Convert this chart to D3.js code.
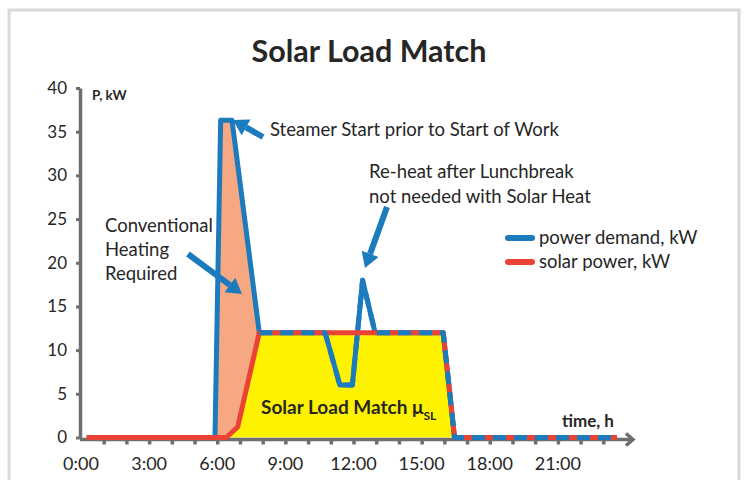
<!DOCTYPE html>
<html><head><meta charset="utf-8">
<script src="https://cdn.jsdelivr.net/npm/d3@7"></script>
<style>
body{margin:0;background:#fff}
text{font-family:Lato,"Open Sans",sans-serif;fill:#262626}
</style>
</head><body>
<svg id="c" width="748" height="480"></svg>
<script>
// ---- data ----
const demandHours = [0.25, 5.9, 6.15, 6.65, 7.85, 10.75, 11.4, 11.95, 12.4, 12.95, 15.95, 16.45, 23.6];
const demandKW    = [0,    0,   36.3, 36.3, 12,   12,    6,    6,     18,   12,    12,    0,     0];
const solarHours  = [0.25, 6.4, 6.9, 7.85, 15.95, 16.45, 23.6];
const solarKW     = [0,    0,   1.2, 12,   12,    0,     0];
const conventionalHours = [5.9, 6.15, 6.4, 6.65, 6.9, 7.85];
const yTicks = [0, 5, 10, 15, 20, 25, 30, 35, 40];
const xTickHours = [0, 3, 6, 9, 12, 15, 18, 21];
const xTickLabels = ["0:00", "3:00", "6:00", "9:00", "12:00", "15:00", "18:00", "21:00"];
const hourTicks = d3.range(1, 24);
const seriesNames = ["power demand, kW", "solar power, kW"];

const BLUE = "#1b7bbd", RED = "#ea4335", ORANGE = "#f5a882", YELLOW = "#fff200", AXIS = "#6e6e6e";

const demand = demandHours.map((h, i) => ({h, v: demandKW[i]}));
const solar = solarHours.map((h, i) => ({h, v: solarKW[i]}));
function interp(hs, vs, h) {
  for (let i = 0; i < hs.length - 1; i++) {
    if (h >= hs[i] && h <= hs[i + 1]) {
      const t = (h - hs[i]) / (hs[i + 1] - hs[i]);
      return vs[i] + t * (vs[i + 1] - vs[i]);
    }
  }
  return 0;
}
const conv = conventionalHours.map(h => ({h, hi: interp(demandHours, demandKW, h), lo: interp(solarHours, solarKW, h)}));
const solarArea = solar.filter(d => d.h >= 6.4 && d.h <= 16.45);
const overlay = demand.filter(d => d.h >= 7.85);

const svg = d3.select("#c");
const x = d3.scaleLinear().domain([0, 24]).range([81, 626]);
const y = d3.scaleLinear().domain([0, 40]).range([437.5, 88]);

// frame
svg.append("path").attr("d", "M9,482V10H739V482").attr("fill", "none").attr("stroke", "#d9d9d9").attr("stroke-width", 3);

// title
svg.append("text").attr("x", 369).attr("y", 62).attr("text-anchor", "middle")
  .style("font-size", "30.5px").style("font-weight", "700").text("Solar Load Match");

// areas
svg.append("path").datum(solarArea)
  .attr("d", d3.area().x(d => x(d.h)).y0(y(0)).y1(d => y(d.v)))
  .attr("fill", YELLOW);
svg.append("path").datum(conv)
  .attr("d", d3.area().x(d => x(d.h)).y0(d => y(d.lo)).y1(d => y(d.hi)))
  .attr("fill", ORANGE);

// axes
const yAxis = svg.append("g").attr("transform", `translate(${x(0) - 1},0)`)
  .call(d3.axisLeft(y).tickValues(yTicks).tickSize(4).tickSizeOuter(0).tickPadding(9));
yAxis.select(".domain").attr("stroke", AXIS).attr("stroke-width", 3.5);
yAxis.selectAll(".tick line").attr("stroke", AXIS).attr("stroke-width", 3);
yAxis.selectAll(".tick text").style("font-size", "17px").attr("fill", "#262626").style("font-family", "Lato");

const xAxis = svg.append("g").attr("transform", `translate(0,${y(0) + 2})`)
  .call(d3.axisBottom(x).tickValues(hourTicks).tickSize(5).tickSizeOuter(0).tickFormat(""));
xAxis.select(".domain").attr("d", `M${x(0) - 1},0H${x(24) + 5}`).attr("stroke", AXIS).attr("stroke-width", 3.5);
xAxis.selectAll(".tick line").attr("stroke", AXIS).attr("stroke-width", 3.5);
xAxis.append("path").attr("d", `M${x(24)},-6L${x(24) + 7},0L${x(24)},6`)
  .attr("fill", "none").attr("stroke", AXIS).attr("stroke-width", 3.5);

svg.append("g").selectAll("text").data(xTickHours).join("text")
  .attr("x", d => x(d)).attr("y", 470).attr("text-anchor", "middle")
  .style("font-size", "18px").text((d, i) => xTickLabels[i]);

// lines
const line = d3.line().x(d => x(d.h)).y(d => y(d.v));
svg.append("path").datum(demand).attr("d", line).attr("fill", "none")
  .attr("stroke", BLUE).attr("stroke-width", 5).attr("stroke-linejoin", "round");
svg.append("path").datum(solar).attr("d", line).attr("fill", "none")
  .attr("stroke", RED).attr("stroke-width", 5).attr("stroke-linejoin", "round");
svg.append("path").datum(overlay).attr("d", line).attr("fill", "none")
  .attr("stroke", BLUE).attr("stroke-width", 5).attr("stroke-dasharray", "13,8").attr("stroke-linejoin", "round");

// axis titles
svg.append("text").attr("x", 92).attr("y", 100).style("font-size", "13.5px").style("font-weight", "700").text("P, kW");
svg.append("text").attr("x", 562).attr("y", 427).style("font-size", "17px").style("font-weight", "700").text("time, h");

// inner label
const slm = svg.append("text").attr("x", 261).attr("y", 414).style("font-size", "19px").style("font-weight", "700");
slm.append("tspan").text("Solar Load Match \u03bc");
slm.append("tspan").attr("dy", 6).style("font-size", "12px").text("SL");

// arrows
function arrow(x1, y1, x2, y2) {
  const a = Math.atan2(y2 - y1, x2 - x1), L = 15, W = 9;
  const bx = x2 - L * Math.cos(a), by = y2 - L * Math.sin(a);
  svg.append("line").attr("x1", x1).attr("y1", y1).attr("x2", bx).attr("y2", by)
    .attr("stroke", BLUE).attr("stroke-width", 6);
  svg.append("path").attr("d", `M${x2},${y2}L${bx + W * Math.sin(a)},${by - W * Math.cos(a)}L${bx - W * Math.sin(a)},${by + W * Math.cos(a)}Z`)
    .attr("fill", BLUE);
}
arrow(263, 137, 233, 120);
arrow(387, 207, 365, 268);
arrow(188, 254, 242, 294);

// annotations
const FS = "18.5px";
svg.append("text").attr("x", 270).attr("y", 136).style("font-size", FS).text("Steamer Start prior to Start of Work");
svg.append("text").attr("x", 369).attr("y", 178).style("font-size", FS).text("Re-heat after Lunchbreak");
svg.append("text").attr("x", 369).attr("y", 203).style("font-size", FS).text("not needed with Solar Heat");
["Conventional", "Heating", "Required"].forEach((t, i) =>
  svg.append("text").attr("x", 105).attr("y", 232 + i * 24).style("font-size", FS).text(t));

// legend
const leg = svg.append("g");
seriesNames.forEach((n, i) => {
  leg.append("line").attr("x1", 508).attr("x2", 532).attr("y1", 238 + i * 24).attr("y2", 238 + i * 24)
    .attr("stroke", i ? RED : BLUE).attr("stroke-width", 6).attr("stroke-linecap", "round");
  leg.append("text").attr("x", 539).attr("y", 244 + i * 24).style("font-size", FS).text(n);
});
</script>
</body></html>
